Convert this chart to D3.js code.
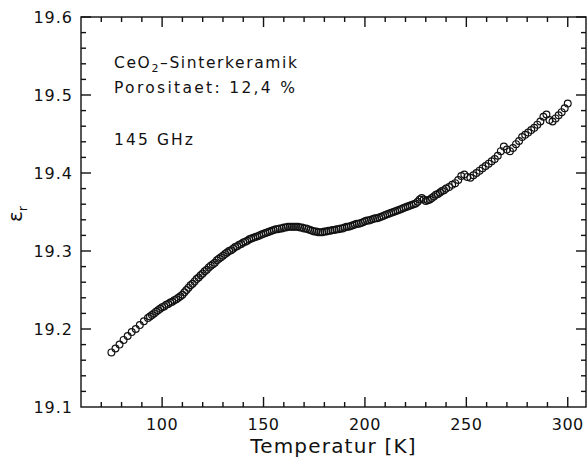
<!DOCTYPE html>
<html>
<head>
<meta charset="utf-8">
<script src="https://cdn.jsdelivr.net/npm/d3@7"></script>
<style>
  body { margin: 0; background: #fff; }
  text { font-family: "DejaVu Sans", sans-serif; fill: #111; }
</style>
</head>
<body>
<div id="chart"></div>
<script>
const temps = [75, 77, 79, 81, 83, 85, 87, 89, 91, 93,
  94, 95, 96, 97, 98, 99, 100, 101, 102, 103, 104, 105, 106, 107, 108, 109,
  110, 111, 112, 113, 114, 115, 116, 117, 118, 119, 120, 121, 122, 123, 124,
  125, 126, 127, 128, 129, 130, 131, 132, 133, 134, 135, 136, 137, 138, 139,
  140, 141, 142, 143, 144, 145, 146, 147, 148, 149, 150, 151, 152, 153, 154,
  155, 156, 157, 158, 159, 160, 161, 162, 163, 164, 165, 166, 167, 168, 169,
  170, 171, 172, 173, 174, 175, 176, 177, 178, 179, 180, 181, 182, 183, 184,
  185, 186, 187, 188, 189, 190, 191, 192, 193, 194, 195, 196, 197, 198, 199,
  200, 201, 202, 203, 204, 205, 206, 207, 208, 209, 210, 211, 212, 213, 214,
  215, 216, 217, 218, 219, 220, 221, 222, 223, 224, 225, 226, 227, 228, 229,
  230, 231, 232, 233, 234, 235, 236, 237, 238, 239, 240,
  241.5, 243, 244.5, 246, 247.5, 249, 250.5, 252, 253.5, 255, 256.5, 258, 259.5,
  261, 262.5, 264, 265.5, 267, 268.5, 270, 271.5, 273, 274.5, 276, 277.5, 279,
  280.5, 282, 283.5, 285, 286.5, 288, 289.5, 291, 292.5, 294, 295.5, 297, 298.5, 300];

const epsR = [19.170, 19.175, 19.180, 19.186, 19.191, 19.196, 19.200, 19.205, 19.210, 19.214,
  19.216, 19.218, 19.220, 19.222, 19.224, 19.226, 19.228, 19.229, 19.231, 19.232, 19.234, 19.235, 19.237, 19.238, 19.240, 19.242,
  19.244, 19.247, 19.250, 19.253, 19.256, 19.258, 19.261, 19.264, 19.266, 19.269, 19.271, 19.274, 19.276, 19.279, 19.281,
  19.283, 19.285, 19.288, 19.290, 19.292, 19.294, 19.296, 19.298, 19.300, 19.301, 19.303, 19.305, 19.306, 19.308, 19.309,
  19.311, 19.312, 19.313, 19.315, 19.316, 19.317, 19.318, 19.319, 19.320, 19.321, 19.322, 19.323, 19.324, 19.325, 19.326,
  19.327, 19.328, 19.328, 19.329, 19.329, 19.330, 19.330, 19.331, 19.331, 19.331, 19.331, 19.331, 19.331, 19.330, 19.330,
  19.329, 19.329, 19.328, 19.327, 19.326, 19.325, 19.325, 19.324, 19.324, 19.324, 19.325, 19.325, 19.326, 19.326, 19.327,
  19.327, 19.328, 19.328, 19.329, 19.329, 19.330, 19.331, 19.331, 19.332, 19.333, 19.334, 19.335, 19.335, 19.336, 19.337,
  19.338, 19.339, 19.339, 19.340, 19.341, 19.342, 19.342, 19.343, 19.344, 19.345, 19.346, 19.347, 19.348, 19.349, 19.350,
  19.351, 19.352, 19.353, 19.354, 19.355, 19.356, 19.357, 19.358, 19.359, 19.360, 19.361, 19.363, 19.366, 19.368, 19.366,
  19.364, 19.365, 19.366, 19.368, 19.370, 19.372, 19.373, 19.375, 19.377, 19.378, 19.380,
  19.382, 19.385, 19.387, 19.391, 19.396, 19.398, 19.395, 19.394, 19.397, 19.400, 19.403, 19.406, 19.409,
  19.412, 19.415, 19.418, 19.422, 19.428, 19.434, 19.430, 19.428, 19.432, 19.437, 19.441, 19.446, 19.449,
  19.452, 19.455, 19.458, 19.462, 19.466, 19.472, 19.475, 19.468, 19.466, 19.470, 19.474, 19.478, 19.483, 19.489];

const xTickLabels = [100, 150, 200, 250, 300];
const yTickLabels = [19.1, 19.2, 19.3, 19.4, 19.5, 19.6];
const notes = ["Porositaet:  12,4  %", "145  GHz"];

const width = 588, height = 467;
const mLeft = 81, mRight = 586, mTop = 17, mBottom = 407;

const svg = d3.select('#chart').append('svg')
    .attr('width', width)
    .attr('height', height);

const x = d3.scaleLinear().domain([60, 309]).range([mLeft, mRight]);
const y = d3.scaleLinear().domain([19.1, 19.6]).range([mBottom, mTop]);

// Ticks nach innen, auf allen vier Seiten
const xMinor = d3.range(70, 310, 10);
const yMinor = d3.range(19.12, 19.6, 0.02).map(v => +v.toFixed(2));

function tickLen(isMajor) { return isMajor ? 10 : 5; }
const isXMajor = v => v % 50 === 0;
const isYMajor = v => Math.abs(v * 10 - Math.round(v * 10)) < 1e-6;

const frame = svg.append('g').attr('stroke', '#111').attr('stroke-width', 1.4);

xMinor.forEach(v => {
    const len = tickLen(isXMajor(v));
    frame.append('line').attr('x1', x(v)).attr('x2', x(v)).attr('y1', mBottom).attr('y2', mBottom - len);
    frame.append('line').attr('x1', x(v)).attr('x2', x(v)).attr('y1', mTop).attr('y2', mTop + len);
});
yMinor.forEach(v => {
    const len = tickLen(isYMajor(v));
    frame.append('line').attr('x1', mLeft).attr('x2', mLeft + len).attr('y1', y(v)).attr('y2', y(v));
    frame.append('line').attr('x1', mRight).attr('x2', mRight - len).attr('y1', y(v)).attr('y2', y(v));
});

frame.append('rect')
    .attr('x', mLeft).attr('y', mTop)
    .attr('width', mRight - mLeft).attr('height', mBottom - mTop)
    .attr('fill', 'none');

// Achsenbeschriftung
svg.append('g').selectAll('text')
    .data(xTickLabels)
    .enter().append('text')
        .attr('x', d => x(d))
        .attr('y', mBottom + 23)
        .attr('text-anchor', 'middle')
        .attr('font-size', 16)
        .attr('letter-spacing', 0.5)
        .text(d => d);

svg.append('g').selectAll('text')
    .data(yTickLabels)
    .enter().append('text')
        .attr('x', mLeft - 8)
        .attr('y', d => y(d) + 6)
        .attr('text-anchor', 'end')
        .attr('font-size', 16)
        .attr('letter-spacing', 1)
        .text(d => d.toFixed(1));

svg.append('text')
    .attr('x', (mLeft + mRight) / 2)
    .attr('y', 453)
    .attr('text-anchor', 'middle')
    .attr('font-size', 20)
    .attr('letter-spacing', 1.2)
    .text('Temperatur  [K]');

const yLab = svg.append('text')
    .attr('transform', 'translate(22,214) rotate(-90)')
    .attr('text-anchor', 'middle')
    .attr('font-size', 20);
yLab.append('tspan').text('ε');
yLab.append('tspan').attr('font-size', 13).attr('dy', 5).text('r');

// Probenbeschreibung
const t1 = svg.append('text')
    .attr('x', 114).attr('y', 67.5)
    .attr('font-size', 15.5)
    .attr('textLength', 183)
    .attr('lengthAdjust', 'spacing');
t1.append('tspan').text('CeO');
t1.append('tspan').attr('font-size', 11).attr('dy', 4).text('2');
t1.append('tspan').attr('dy', -4).text('–Sinterkeramik');

svg.append('text')
    .attr('x', 114).attr('y', 92.5)
    .attr('font-size', 15.5)
    .attr('textLength', 181)
    .attr('lengthAdjust', 'spacing')
    .text(notes[0]);

svg.append('text')
    .attr('x', 114).attr('y', 145)
    .attr('font-size', 15.5)
    .attr('textLength', 79)
    .attr('lengthAdjust', 'spacing')
    .text(notes[1]);

// Messpunkte
svg.append('g').selectAll('circle')
    .data(temps)
    .enter().append('circle')
        .attr('cx', d => x(d))
        .attr('cy', (d, i) => y(epsR[i]))
        .attr('r', 3.4)
        .attr('fill', 'none')
        .attr('stroke', '#111')
        .attr('stroke-width', 1.2);
</script>
</body>
</html>
